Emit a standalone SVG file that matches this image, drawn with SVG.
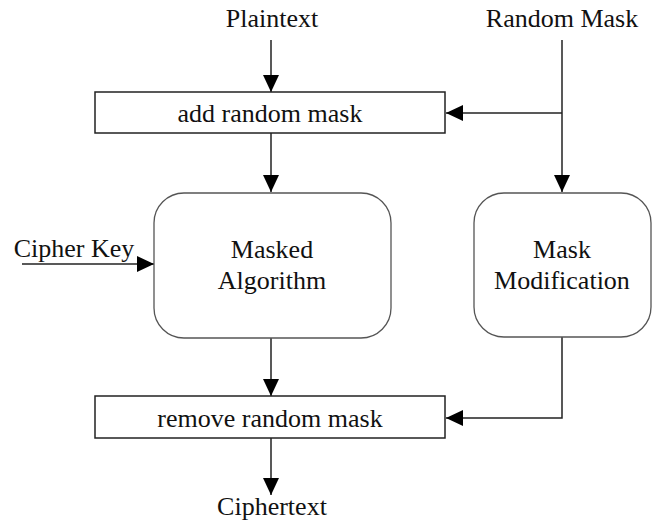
<svg xmlns="http://www.w3.org/2000/svg" width="660" height="523" viewBox="0 0 660 523">
<defs>
<marker id="ah" markerWidth="17" markerHeight="16" refX="17" refY="8" orient="auto" markerUnits="userSpaceOnUse">
<path d="M0,0 L17,8 L0,16 Z" fill="#000"/>
</marker>
<style>
text{font-family:"Liberation Serif","Times New Roman",serif;font-size:26px;fill:#111;text-anchor:middle}
.box{fill:#fff;stroke:#222;stroke-width:1.5}
.rbox{fill:#fff;stroke:#555;stroke-width:1.3}
.ln{fill:none;stroke:#222;stroke-width:1.5}
</style>
</defs>
<rect width="660" height="523" fill="#fff"/>
<g id="connectors">
<line class="ln" x1="271" y1="40" x2="271" y2="92" marker-end="url(#ah)"/>
<line class="ln" x1="562" y1="40" x2="562" y2="192" marker-end="url(#ah)"/>
<line class="ln" x1="562" y1="113" x2="446" y2="113" marker-end="url(#ah)"/>
<line class="ln" x1="271" y1="133" x2="271" y2="192" marker-end="url(#ah)"/>
<line class="ln" x1="22" y1="264" x2="154" y2="264" marker-end="url(#ah)"/>
<line class="ln" x1="271" y1="338" x2="271" y2="396" marker-end="url(#ah)"/>
<polyline class="ln" points="562,337 562,418 446,418" marker-end="url(#ah)"/>
<line class="ln" x1="271" y1="438" x2="271" y2="495" marker-end="url(#ah)"/>
</g>
<g id="plaintext"><text x="272" y="27">Plaintext</text></g>
<g id="random-mask"><text x="562" y="27">Random Mask</text></g>
<g id="add-mask"><rect class="box" x="95" y="92" width="350" height="41"/><text x="270" y="122">add random mask</text></g>
<g id="cipher-key"><text x="74" y="257">Cipher Key</text></g>
<g id="masked-algorithm"><rect class="rbox" x="154" y="193" width="237" height="145" rx="30"/><text x="272" y="258">Masked</text><text x="272" y="289">Algorithm</text></g>
<g id="mask-modification"><rect class="rbox" x="474" y="193" width="177" height="144" rx="30"/><text x="562" y="258">Mask</text><text x="562" y="289">Modification</text></g>
<g id="remove-mask"><rect class="box" x="95" y="396" width="350" height="42"/><text x="270" y="427">remove random mask</text></g>
<g id="ciphertext"><text x="272" y="515">Ciphertext</text></g>
</svg>
